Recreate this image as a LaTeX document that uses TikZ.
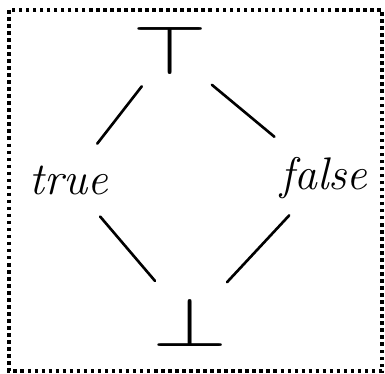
\documentclass[tikz,border=0pt]{standalone}
\usepackage{amsmath,amssymb}
\usepackage{graphicx}
\usepackage{tikz}

\tikzset{
  elem/.style={inner sep=0pt, font=\fontsize{26}{30}\selectfont\itshape},
  bound/.style={inner sep=0pt, font=\normalsize},
  edge/.style={line width=1.5pt, line cap=round}
}

\begin{document}
\begin{tikzpicture}[x=0.02cm, y=-0.02cm]
  \useasboundingbox (0, 0) rectangle (385, 374);
  % Frame
  \draw[line width=2pt, dash pattern=on 2pt off 2pt] (9, 10) rectangle (382, 371);

  % Lattice elements
  \node[bound] (top) at (170, 50) {\scalebox{5.5}[4]{$\top$}};
  \node[elem] (true) at (69, 180) {true};
  \node[elem] (false) at (324, 178) {false};
  \node[bound] (bot) at (190, 322) {\scalebox{5.5}[4]{$\bot$}};

  % Order
  \draw[edge, shorten <=0.92cm, shorten >=0.92cm] (top.center) -- (true.center);
  \draw[edge, shorten <=1.09cm, shorten >=1.29cm] (top.center) -- (false.center);
  \draw[edge, shorten <=0.96cm, shorten >=1.08cm] (true.center) -- (bot.center);
  \draw[edge, shorten <=1.02cm, shorten >=1.09cm] (false.center) -- (bot.center);
\end{tikzpicture}
\end{document}
